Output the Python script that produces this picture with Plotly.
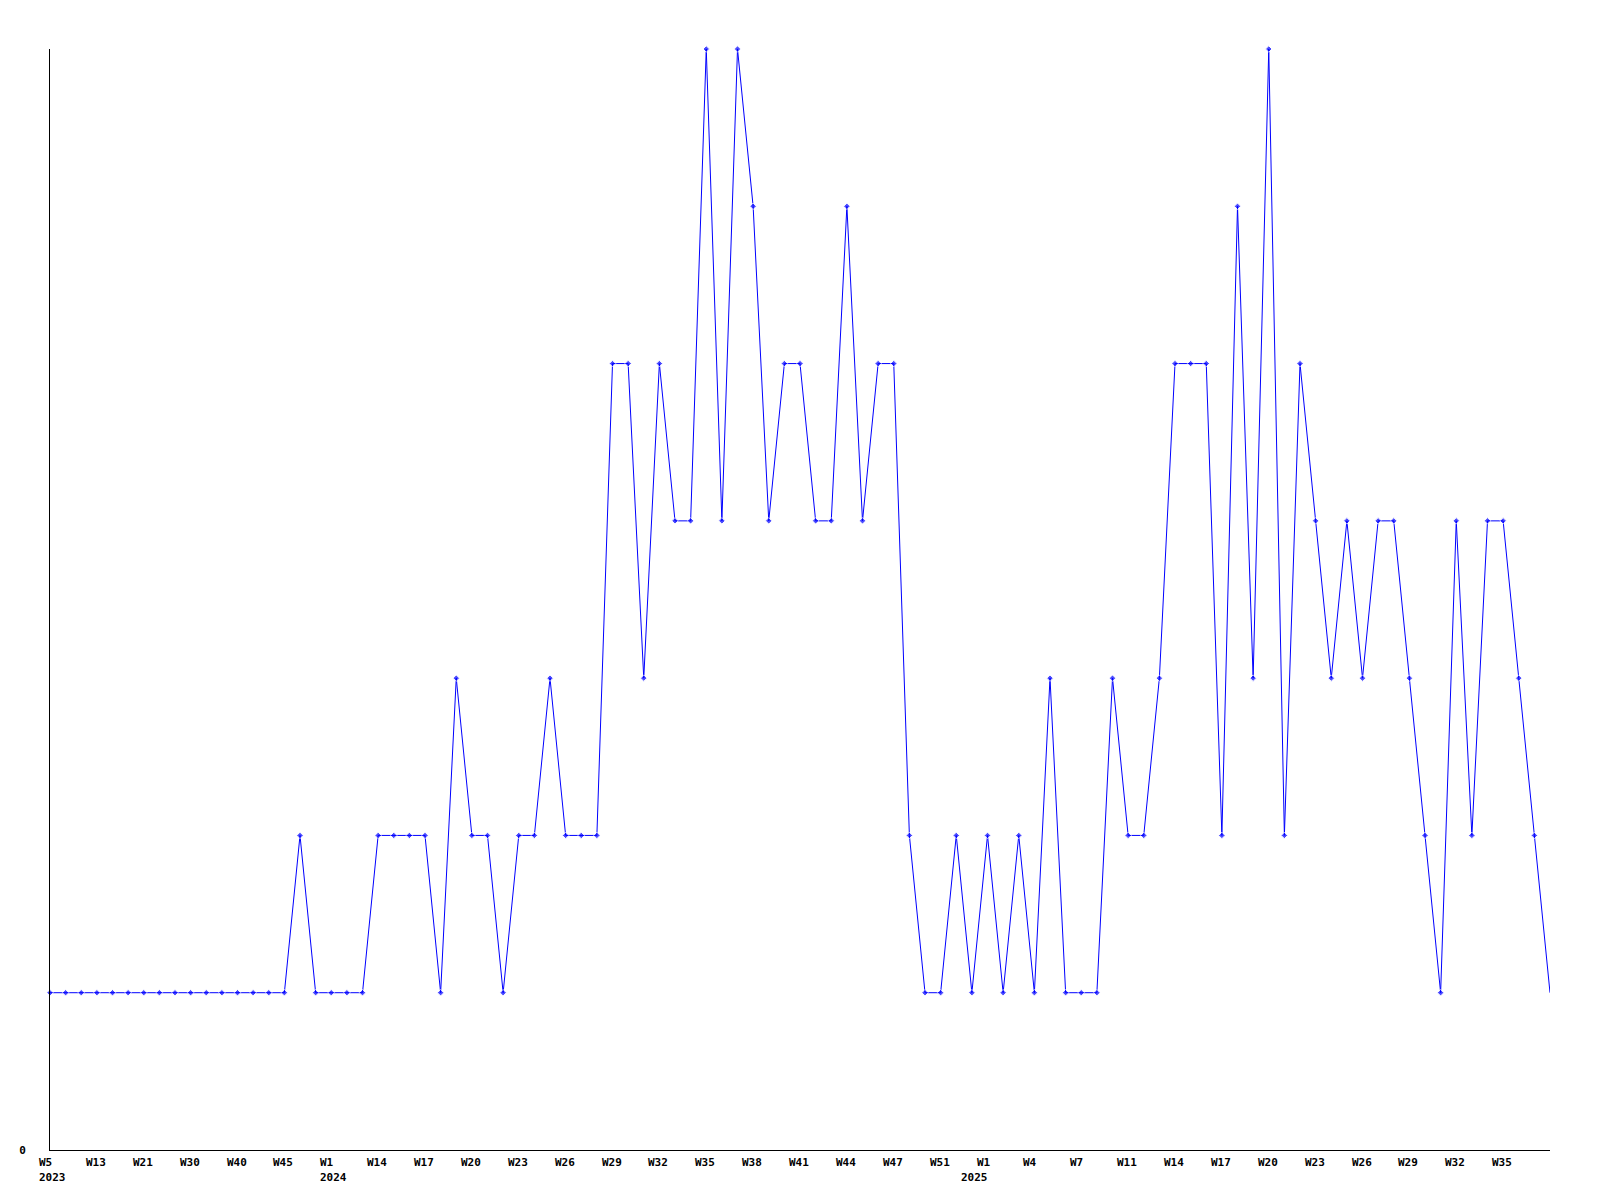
import plotly.graph_objects as go

# Week categories (one per data point, in order)
years = [2023] * 18 + [2024] * 41 + [2025] * 38
week_numbers = [
    5, 8, 10, 13, 15, 18, 21, 24, 27, 30, 33, 37, 40, 42, 44, 45, 48, 50,
    1, 5, 9, 14, 15, 16, 17, 18, 19, 20, 21, 22, 23, 24, 25, 26, 27, 28, 29, 30,
    31, 32, 33, 34, 35, 36, 37, 38, 39, 40, 41, 42, 43, 44, 45, 46, 47, 48, 50, 51, 52, 0,
    1, 2, 3, 4, 5, 6, 7, 8, 10, 11, 12, 13, 14, 15, 16, 17, 18, 19, 20, 21, 22, 23,
    24, 25, 26, 27, 28, 29, 30, 31, 32, 33, 34, 35, 36, 37, 38,
]
categories = [f"{y}-W{w:02d}" for y, w in zip(years, week_numbers)]

values = [
    1, 1, 1, 1, 1, 1, 1, 1, 1, 1, 1, 1, 1, 1, 1, 1,
    2, 1, 1, 1, 1, 2, 2, 2, 2, 1, 3, 2, 2, 1, 2, 2, 3, 2, 2, 2,
    5, 5, 3, 5, 4, 4, 7, 4, 7, 6, 4, 5, 5, 4, 4, 6, 4, 5, 5, 2,
    1, 1, 2, 1, 2, 1, 2, 1, 3, 1, 1, 1, 3, 2, 2, 3, 5, 5, 5, 2,
    6, 3, 7, 2, 5, 4, 3, 4, 3, 4, 4, 3, 2, 1, 4, 2, 4, 4, 3, 2, 1,
]

week_tick_labels = [
    "W5", "W13", "W21", "W30", "W40", "W45",
    "W1", "W14", "W17", "W20", "W23", "W26", "W29", "W32", "W35",
    "W38", "W41", "W44", "W47", "W51",
    "W1", "W4", "W7", "W11", "W14", "W17", "W20", "W23", "W26",
    "W29", "W32", "W35",
]
week_tick_positions = categories[::3][: len(week_tick_labels)]

year_labels = ["2023", "2024", "2025"]
year_label_positions = [categories[years.index(int(y))] for y in year_labels]

marker_sizes = [5] * (len(values) - 1) + [0]

font = dict(family="DejaVu Sans Mono", size=11, color="black", weight="bold")

fig = go.Figure(
    go.Scatter(
        x=categories,
        y=values,
        mode="lines+markers",
        line=dict(color="#0000FF", width=1),
        marker=dict(symbol="diamond", size=marker_sizes, color="#0000FF"),
        cliponaxis=False,
        showlegend=False,
    )
)

annotations = []
for cat, lab in zip(week_tick_positions, week_tick_labels):
    annotations.append(dict(
        x=cat, xref="x", y=0, yref="paper", text=lab, showarrow=False,
        xanchor="left", yanchor="middle", xshift=-12, yshift=-12,
        font=font, borderpad=0,
    ))
for cat, lab in zip(year_label_positions, year_labels):
    annotations.append(dict(
        x=cat, xref="x", y=0, yref="paper", text=lab, showarrow=False,
        xanchor="left", yanchor="middle", xshift=-12, yshift=-27,
        font=font, borderpad=0,
    ))

fig.update_layout(
    width=1600,
    height=1200,
    margin=dict(l=50, r=50, t=49, b=50),
    paper_bgcolor="white",
    plot_bgcolor="white",
    font=font,
    annotations=annotations,
)
fig.update_xaxes(
    type="category",
    range=[0, len(categories) - 1],
    showticklabels=False,
    showgrid=False,
    zeroline=False,
    showline=True,
    linecolor="black",
    linewidth=1,
    ticks="",
)
fig.update_yaxes(
    range=[0, 7],
    tickmode="array",
    tickvals=[0],
    ticktext=["0"],
    tickfont=font,
    showgrid=False,
    zeroline=False,
    showline=True,
    linecolor="black",
    linewidth=1,
    ticks="",
    ticklabelstandoff=21,
)

fig.write_html(
    "out.html",
    config={"displayModeBar": False},
    post_script="document.body.style.margin='0px';",
)
